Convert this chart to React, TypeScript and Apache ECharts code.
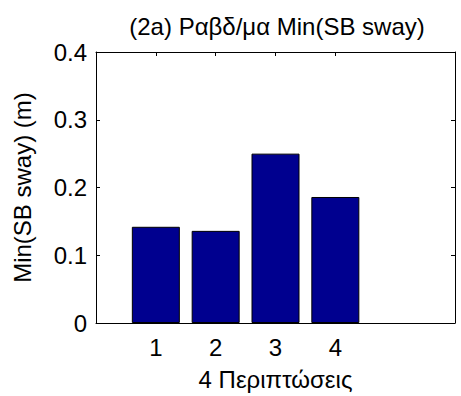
import React, { useEffect, useRef } from "react";
import * as echarts from "echarts";

const categories = [1, 2, 3, 4];
const values = [0.142, 0.136, 0.25, 0.186];
const yTicks = [0, 0.1, 0.2, 0.3, 0.4];
const titleText = "(2a) Ραβδ/μα Min(SB sway)";
const xName = "4 Περιπτώσεις";
const yName = "Min(SB sway) (m)";

const FONT = "'Liberation Sans', Arial, sans-serif";
const FS = 24;

export default function App() {
  const ref = useRef<HTMLDivElement>(null);
  useEffect(() => {
    if (!ref.current) return;
    const chart = echarts.init(ref.current, undefined, { renderer: "svg" });
    const axisLine = { show: true, onZero: false, lineStyle: { color: "#000", width: 1 } };
    const tickStyle = { inside: true, length: 4, lineStyle: { color: "#000", width: 1 } };
    chart.setOption({
      animation: false,
      backgroundColor: "#fff",
      textStyle: { fontFamily: FONT },
      title: {
        text: titleText,
        left: 272,
        textAlign: "center",
        top: 9,
        textStyle: { fontFamily: FONT, fontSize: FS, fontWeight: "normal", color: "#000" },
      },
      grid: { left: 96, right: 6, top: 52, bottom: 72 },
      xAxis: [
        {
          type: "value",
          min: 0,
          max: 6,
          position: "bottom",
          axisLine,
          axisTick: { ...tickStyle, customValues: categories },
          axisLabel: {
            customValues: categories,
            fontFamily: FONT,
            fontSize: FS,
            color: "#000",
            margin: 12,
          },
          splitLine: { show: false },
          name: xName,
          nameLocation: "middle",
          nameGap: 44,
          nameTextStyle: { fontFamily: FONT, fontSize: FS, color: "#000" },
        },
        {
          type: "value",
          min: 0,
          max: 6,
          position: "top",
          axisLine,
          axisTick: { ...tickStyle, customValues: categories },
          axisLabel: { show: false },
          splitLine: { show: false },
        },
      ],
      yAxis: [
        {
          type: "value",
          min: 0,
          max: 0.4,
          interval: 0.1,
          position: "left",
          axisLine,
          axisTick: { ...tickStyle, customValues: yTicks },
          axisLabel: {
            customValues: yTicks,
            fontFamily: FONT,
            fontSize: FS,
            color: "#000",
            margin: 9,
            formatter: (v: number) => String(Math.round(v * 10) / 10),
          },
          splitLine: { show: false },
          name: yName,
          nameLocation: "middle",
          nameGap: 62,
          nameRotate: 90,
          nameTextStyle: { fontFamily: FONT, fontSize: FS, color: "#000" },
        },
        {
          type: "value",
          min: 0,
          max: 0.4,
          interval: 0.1,
          position: "right",
          axisLine,
          axisTick: { ...tickStyle, customValues: yTicks },
          axisLabel: { show: false },
          splitLine: { show: false },
        },
      ],
      series: [
        {
          type: "bar",
          xAxisIndex: 0,
          yAxisIndex: 0,
          barWidth: 48,
          data: categories.map((c, i) => [c, values[i]]),
          itemStyle: { color: "#00008f", borderColor: "#000", borderWidth: 1 },
        },
      ],
    });
    return () => chart.dispose();
  }, []);
  return (
    <div
      ref={ref}
      style={{ position: "fixed", left: 0, top: 0, width: 461, height: 396, background: "#fff" }}
    />
  );
}
